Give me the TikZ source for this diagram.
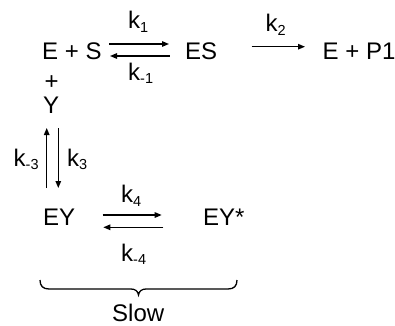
\documentclass[tikz,border=0pt]{standalone}
\usepackage{fontspec}
\setmainfont{Liberation Sans}
\usetikzlibrary{arrows.meta,calc}
\newcommand\kk[1]{k\raisebox{-3.5bp}{\fontsize{14.5bp}{14.5bp}\selectfont #1}}
\begin{document}
\begin{tikzpicture}[x=1bp,y=-1bp,
  lbl/.style={anchor=base west,inner sep=0pt,font=\fontsize{24bp}{28bp}\selectfont},
  rx/.style={line width=1.3bp,-{Triangle[length=7bp,width=5.5bp]}},
  bracepath/.style={line width=1.3bp}]
\useasboundingbox (0,0) rectangle (395,326);
% species
\node[lbl] (es1) at (42,59) {E + S};
\node[lbl] (es) at (185,59) {ES};
\node[lbl] (ep) at (322.5,59) {E + P1};
\node[lbl] (pl) at (44.5,89) {+};
\node[lbl] (y) at (43,113) {Y};
\node[lbl] (ey) at (43,225) {EY};
\node[lbl] (eys) at (203,225) {EY*};
% rate labels
\node[lbl] (k1) at (128,28.5) {\kk{1}};
\node[lbl] (km1) at (128,80) {\kk{-1}};
\node[lbl] (k2) at (265.5,31.5) {\kk{2}};
\node[lbl] (km3) at (13.5,166) {\kk{-3}};
\node[lbl] (k3) at (67,166) {\kk{3}};
\node[lbl] (k4) at (121,202.5) {\kk{4}};
\node[lbl] (km4) at (121,261) {\kk{-4}};
\node[lbl] (slow) at (112,321.5) {Slow};
% arrows
\draw[rx] ($(es1.base west)+(67,-15)$) -- ($(es.base west)+(-16,-15)$);
\draw[rx] ($(es.base west)+(-15.5,-3)$) -- ($(es1.base west)+(68,-3)$);
\draw[rx] ($(es.base west)+(66.7,-12.3)$) -- ($(ep.base west)+(-17.5,-12.3)$);
\draw[rx] ($(ey.base west)+(3.7,-37)$) -- ($(y.base west)+(3.7,15)$);
\draw[rx] ($(y.base west)+(15.3,15)$) -- ($(ey.base west)+(15.3,-37)$);
\draw[rx] ($(ey.base west)+(59.7,-10)$) -- ($(eys.base west)+(-41.3,-10)$);
\draw[rx] ($(eys.base west)+(-39.7,2.3)$) -- ($(ey.base west)+(60.3,2.3)$);
% brace
\draw[bracepath] (40,280) .. controls (40,286) and (43,289) .. (49,289) -- (131,289)
  .. controls (135,289) and (138,291) .. (138.5,295)
  .. controls (139,291) and (142,289) .. (146,289) -- (228,289)
  .. controls (234,289) and (237,286) .. (237,280);
\end{tikzpicture}
\end{document}
